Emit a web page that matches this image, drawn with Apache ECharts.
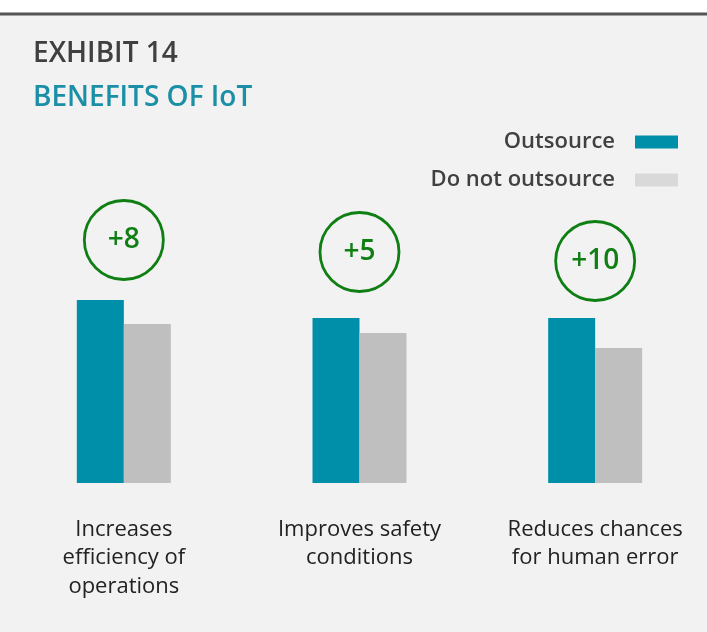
<!DOCTYPE html>
<html>
<head>
<meta charset="utf-8">
<script src="https://cdn.jsdelivr.net/npm/echarts@6/dist/echarts.min.js"></script>
<style>
  html, body { margin: 0; padding: 0; background: #fff; }
  #chart { width: 707px; height: 632px; }
</style>
</head>
<body>
<div id="chart"></div>
<script>
const categories = ['Increases\nefficiency of\noperations', 'Improves safety\nconditions', 'Reduces chances\nfor human error']
const outsource = [61, 55, 55]
const notOutsource = [53, 50, 45]
const gapLabels = ['+8', '+5', '+10']
// height of the green circles on the value scale
const circleLevel = [81, 77, 74]

const font = '"Open Sans", "Noto Sans", sans-serif'
const chart = echarts.init(document.getElementById('chart'))

chart.setOption({
  animation: false,
  textStyle: { fontFamily: font },
  graphic: [
    { type: 'rect', silent: true, z: -10, shape: { x: 0, y: 15, width: 707, height: 617 }, style: { fill: '#f2f2f2' } },
    { type: 'line', silent: true, shape: { x1: 0, y1: 14, x2: 707, y2: 14 }, style: { stroke: '#555', lineWidth: 3 } }
  ],
  title: {
    left: 28,
    top: 35,
    padding: 5,
    text: 'EXHIBIT 14',
    subtext: 'BENEFITS OF IoT',
    itemGap: 16,
    textStyle: { fontFamily: font, fontSize: 28, fontWeight: 600, color: '#404040' },
    subtextStyle: { fontFamily: font, fontSize: 28, fontWeight: 600, color: '#1a8fa6' }
  },
  legend: {
    orient: 'vertical',
    right: 29,
    top: 131,
    padding: 0,
    align: 'right',
    itemWidth: 43,
    itemHeight: 13,
    itemGap: 16,
    selectedMode: false,
    textStyle: { fontFamily: font, fontSize: 22, fontWeight: 600, color: '#404040', padding: [0, 15, 0, 0] },
    data: [
      { name: 'Outsource', icon: 'rect' },
      { name: 'Do not outsource', icon: 'rect', itemStyle: { color: '#d9d9d9' } }
    ]
  },
  grid: { left: 6, width: 707, top: 183, bottom: 149, outerBoundsMode: 'none', containLabel: false },
  xAxis: {
    type: 'category',
    data: categories,
    axisLine: { show: false },
    axisTick: { show: false },
    axisLabel: { color: '#222', fontSize: 22, lineHeight: 28.5, margin: 32, fontFamily: font }
  },
  yAxis: {
    type: 'value',
    min: 0,
    max: 100,
    show: false,
    splitLine: { show: false }
  },
  series: [
    {
      name: 'Outsource',
      type: 'bar',
      data: outsource,
      barWidth: 47,
      barGap: '0%',
      itemStyle: { color: '#008fa8' }
    },
    {
      name: 'Do not outsource',
      type: 'bar',
      data: notOutsource,
      barWidth: 47,
      itemStyle: { color: '#bfbfbf' }
    },
    {
      name: 'gap',
      type: 'scatter',
      data: circleLevel.map((v, i) => [i, v]),
      symbol: 'circle',
      symbolSize: 79,
      itemStyle: { color: 'rgba(0,0,0,0)', borderColor: '#0f7f14', borderWidth: 2.8, opacity: 1 },
      label: {
        show: true,
        position: 'inside',
        formatter: p => gapLabels[p.dataIndex],
        color: '#0f7f14',
        fontSize: 28,
        fontWeight: 600,
        fontFamily: font
      },
      silent: true
    }
  ]
})
</script>
</body>
</html>
